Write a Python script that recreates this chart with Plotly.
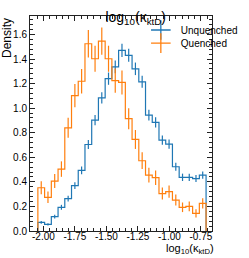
import numpy as np
import plotly.graph_objects as go

# Histogram binning (log10 kappa_ktD)
bin_lo = -2.044
bin_hi = -0.709
n_bins = 25

unquenched = [0.070, 0.054, 0.117, 0.193, 0.264, 0.369, 0.493, 0.704, 0.902, 1.084,
              1.240, 1.336, 1.470, 1.430, 1.320, 1.214, 0.943, 0.884, 0.740, 0.707,
              0.523, 0.437, 0.437, 0.427, 0.455]
unquenched_err = [0.012, 0.010, 0.015, 0.020, 0.023, 0.027, 0.031, 0.037, 0.042, 0.046,
                  0.050, 0.052, 0.054, 0.053, 0.051, 0.049, 0.043, 0.042, 0.038, 0.038,
                  0.032, 0.030, 0.030, 0.029, 0.030]
quenched = [0.352, 0.274, 0.406, 0.504, 0.840, 1.102, 1.219, 1.524, 1.402, 1.545,
            1.402, 1.224, 1.209, 0.914, 0.745, 0.572, 0.455, 0.434, 0.305, 0.320,
            0.252, 0.193, 0.200, 0.143, 0.225]
quenched_err = [0.053, 0.047, 0.057, 0.063, 0.082, 0.094, 0.099, 0.112, 0.106, 0.111,
                0.106, 0.099, 0.098, 0.085, 0.077, 0.068, 0.060, 0.059, 0.049, 0.050,
                0.045, 0.039, 0.040, 0.034, 0.042]

x_ticks = [-2.00, -1.75, -1.50, -1.25, -1.00, -0.75]
x_ticklabels = ["-2.00", "-1.75", "-1.50", "-1.25", "-1.00", "-0.75"]
y_ticks = [0.0, 0.2, 0.4, 0.6, 0.8, 1.0, 1.2, 1.4, 1.6]

BLUE = "#1f77b4"
ORANGE = "#ff7f0e"
FONT = "Liberation Sans, Arial, sans-serif"

edges = np.linspace(bin_lo, bin_hi, n_bins + 1)
centers = 0.5 * (edges[:-1] + edges[1:])

fig = go.Figure()


def add_hist(vals, errs, color, name, legend_id):
    xs = [edges[0]] + list(edges) + [edges[-1]]
    ys = [0] + list(vals) + [vals[-1], 0]
    fig.add_trace(go.Scatter(x=xs, y=ys, mode="lines", line=dict(color=color, width=1.2, shape="hv"),
                             showlegend=False, hoverinfo="skip"))
    fig.add_trace(go.Scatter(x=centers, y=vals, mode="markers", marker=dict(size=1, color=color, opacity=0),
                             error_y=dict(type="data", array=errs, color=color, thickness=1.2, width=0),
                             showlegend=False))
    fig.add_trace(go.Scatter(x=[None], y=[None], mode="markers", name=name, legend=legend_id,
                             marker=dict(symbol="cross-thin-open", size=14, color=color,
                                         line=dict(color=color, width=1.3))))


add_hist(unquenched, unquenched_err, BLUE, "Unquenched", "legend")
add_hist(quenched, quenched_err, ORANGE, "Quenched", "legend2")

axis_common = dict(showline=True, linecolor="#222", linewidth=1, mirror="allticks",
                   ticks="inside", ticklen=5, tickwidth=1, tickcolor="#222",
                   showgrid=False, zeroline=False, automargin=False,
                   tickfont=dict(family=FONT, size=10, color="black"))

fig.update_xaxes(range=[-2.1065, -0.662], tickvals=x_ticks, ticktext=x_ticklabels,
                 ticklabelstandoff=-4,
                 minor=dict(dtick=0.05, ticks="inside", ticklen=3, tickcolor="#222", showgrid=False),
                 **axis_common)
fig.update_yaxes(range=[0, 1.75], tickvals=y_ticks, tickformat=".1f",
                 minor=dict(dtick=0.04, ticks="inside", ticklen=3, tickcolor="#222", showgrid=False),
                 **axis_common)

legend_common = dict(xanchor="left", yanchor="middle", bgcolor="rgba(0,0,0,0)",
                     font=dict(family=FONT, size=10, color="black"), itemwidth=30)

fig.update_layout(
    width=249, height=258,
    margin=dict(l=30, r=6, t=16, b=27),
    plot_bgcolor="white", paper_bgcolor="white",
    font=dict(family=FONT, color="black"),
    title=dict(text="log<sub>10</sub>(κ<sub>ktD</sub>)", x=0.545, xanchor="center", y=0.935, yanchor="middle",
               font=dict(size=14)),
    legend=dict(x=0.609, y=0.935, **legend_common),
    legend2=dict(x=0.609, y=0.874, **legend_common),
    annotations=[
        dict(text="log<sub>10</sub>(κ<sub>ktD</sub>)", xref="paper", yref="paper", x=1, y=0,
             xanchor="center", yanchor="top", xshift=-22, yshift=-9, showarrow=False,
             font=dict(size=11)),
        dict(text="Density", xref="paper", yref="paper", x=0, y=1, xanchor="center", yanchor="top",
             xshift=-23, textangle=-90, showarrow=False, font=dict(size=12)),
    ],
)

fig.write_html("out.html", config={"displayModeBar": False},
               post_script="document.body.style.margin='0';")
